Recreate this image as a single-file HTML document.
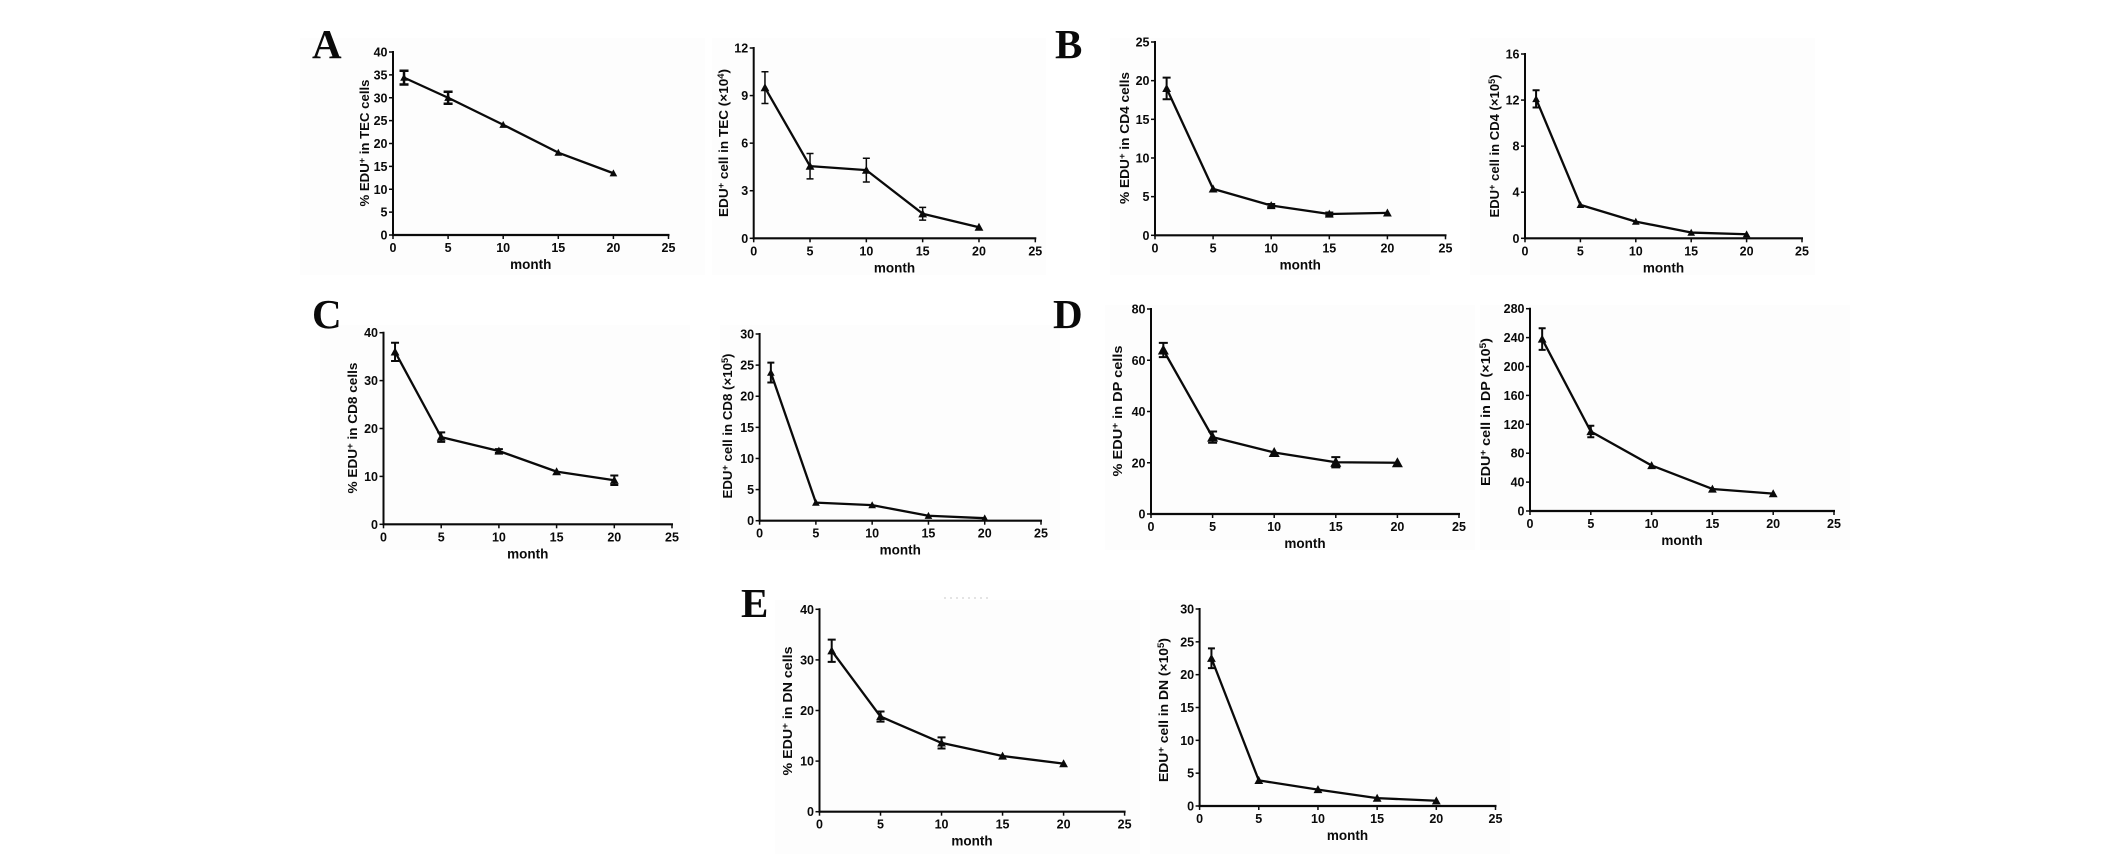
<!DOCTYPE html>
<html>
<head>
<meta charset="utf-8">
<title>EDU+ cells by month</title>
<style>
html,body{margin:0;padding:0;background:#fff;width:2126px;height:854px;overflow:hidden}
svg{display:block}
text{font-family:"Liberation Sans",sans-serif;font-weight:bold;fill:#0a0a0a}
.letter{font-family:"Liberation Serif",serif;font-size:41px}
.tick{font-size:12.5px}
.xtitle{font-size:13.5px}
.ytitle{font-size:13px}
</style>
</head>
<body>
<svg id="figure" width="2126" height="854" viewBox="0 0 2126 854" xmlns="http://www.w3.org/2000/svg">
  <rect x="0" y="0" width="2126" height="854" fill="#ffffff"/>
  <g id="letters">
    <text class="letter" x="312" y="58">A</text>
    <text class="letter" x="1055" y="58">B</text>
    <text class="letter" x="312" y="328">C</text>
    <text class="letter" x="1053" y="328">D</text>
    <text class="letter" x="741" y="617">E</text>
  </g>
  <line x1="944" y1="598" x2="991" y2="598" stroke="#c8c8c8" stroke-width="1" stroke-dasharray="2 4"/>
</svg>
<script>
// Shared axis data
const months = [1, 5, 10, 15, 20];
const xTicks = [0, 5, 10, 15, 20, 25];

// Panel A, left
const a1Ticks = [0, 5, 10, 15, 20, 25, 30, 35, 40];
const a1Values = [34.4, 30, 24.1, 18, 13.5];
const a1Errors = [1.5, 1.3, 0.3, 0.3, 0.2];
// Panel A, right
const a2Ticks = [0, 3, 6, 9, 12];
const a2Values = [9.5, 4.55, 4.3, 1.55, 0.7];
const a2Errors = [1.0, 0.8, 0.75, 0.4, 0.05];
// Panel B, left
const b1Ticks = [0, 5, 10, 15, 20, 25];
const b1Values = [19, 6, 3.85, 2.75, 2.9];
const b1Errors = [1.4, 0.1, 0.2, 0.2, 0.1];
// Panel B, right
const b2Ticks = [0, 4, 8, 12, 16];
const b2Values = [12.1, 2.9, 1.45, 0.5, 0.35];
const b2Errors = [0.75, 0.1, 0.1, 0.1, 0.05];
// Panel C, left
const c1Ticks = [0, 10, 20, 30, 40];
const c1Values = [36, 18.2, 15.3, 11, 9.2];
const c1Errors = [1.9, 1, 0.4, 0.3, 1];
// Panel C, right
const c2Ticks = [0, 5, 10, 15, 20, 25, 30];
const c2Values = [23.8, 2.9, 2.5, 0.8, 0.4];
const c2Errors = [1.6, 0.1, 0.1, 0.1, 0.1];
// Panel D, left
const d1Ticks = [0, 20, 40, 60, 80];
const d1Values = [64, 30, 24, 20.2, 20];
const d1Errors = [2.8, 2.2, 0.5, 2, 0.1];
// Panel D, right
const d2Ticks = [0, 40, 80, 120, 160, 200, 240, 280];
const d2Values = [238, 110, 63, 30.5, 24];
const d2Errors = [15, 8, 2, 1, 0.5];
// Panel E, left
const e1Ticks = [0, 10, 20, 30, 40];
const e1Values = [31.8, 18.8, 13.6, 11, 9.5];
const e1Errors = [2.2, 1, 1.1, 0.2, 0.1];
// Panel E, right
const e2Ticks = [0, 5, 10, 15, 20, 25, 30];
const e2Values = [22.5, 3.9, 2.5, 1.2, 0.8];
const e2Errors = [1.5, 0.1, 0.1, 0.1, 0.1];

const charts = [
  {id:'a1', pre:'% EDU', post:' in TEC cells', ticks:a1Ticks, values:a1Values, errors:a1Errors},
  {id:'a2', pre:'EDU', post:' cell in TEC (\u00d710', exp:'4', end:')', ticks:a2Ticks, values:a2Values, errors:a2Errors},
  {id:'b1', pre:'% EDU', post:' in CD4 cells', ticks:b1Ticks, values:b1Values, errors:b1Errors},
  {id:'b2', pre:'EDU', post:' cell in CD4 (\u00d710', exp:'5', end:')', ticks:b2Ticks, values:b2Values, errors:b2Errors},
  {id:'c1', pre:'% EDU', post:' in CD8 cells', ticks:c1Ticks, values:c1Values, errors:c1Errors},
  {id:'c2', pre:'EDU', post:' cell in CD8 (\u00d710', exp:'5', end:')', ticks:c2Ticks, values:c2Values, errors:c2Errors},
  {id:'d1', pre:'% EDU', post:' in DP cells', ticks:d1Ticks, values:d1Values, errors:d1Errors},
  {id:'d2', pre:'EDU', post:' cell in DP (\u00d710', exp:'5', end:')', ticks:d2Ticks, values:d2Values, errors:d2Errors},
  {id:'e1', pre:'% EDU', post:' in DN cells', ticks:e1Ticks, values:e1Values, errors:e1Errors},
  {id:'e2', pre:'EDU', post:' cell in DN (\u00d710', exp:'5', end:')', ticks:e2Ticks, values:e2Values, errors:e2Errors}
];

// Plot geometry per panel: left, right, bottom, top of axes, title position and length, backdrop, mark sizes
const layout = {
  a1:{l:393,r:668.5,b:235,t:52,tx:369,ty:143,tl:127,bg:[300,38,405,237],m:7,cap:9,ew:2.5,lw:2},
  a2:{l:753.7,r:1035.3,b:238.3,t:48,tx:728,ty:143,tl:148,bg:[712,38,334,237],m:8,cap:7,ew:1.5,lw:2},
  b1:{l:1155,r:1445.5,b:235.3,t:42,tx:1129,ty:138,tl:132,bg:[1110,38,320,237],m:8,cap:8,ew:2,lw:2},
  b2:{l:1525,r:1802,b:238.3,t:54,tx:1499,ty:146,tl:143,bg:[1470,38,345,237],m:7,cap:7,ew:2,lw:2},
  c1:{l:383.5,r:672,b:524.3,t:332.7,tx:357,ty:428,tl:131,bg:[320,325,370,225],m:8,cap:8,ew:2,lw:2},
  c2:{l:759.6,r:1041,b:520.7,t:334,tx:732,ty:426,tl:145,bg:[720,325,340,225],m:7,cap:7,ew:2,lw:2},
  d1:{l:1151,r:1459,b:514,t:309,tx:1122,ty:411,tl:131,bg:[1105,305,370,245],m:10,cap:9,ew:2,lw:2},
  d2:{l:1530,r:1834,b:511,t:308.7,tx:1490,ty:412,tl:148,bg:[1480,305,370,245],m:8,cap:7,ew:2,lw:2},
  e1:{l:819.5,r:1124.6,b:811.7,t:609.3,tx:792,ty:711,tl:129,bg:[775,600,365,254],m:8,cap:8,ew:2,lw:2},
  e2:{l:1199.6,r:1495.5,b:806,t:609,tx:1168,ty:710,tl:144,bg:[1150,600,360,254],m:8,cap:7,ew:2,lw:2}
};

const NS = 'http://www.w3.org/2000/svg';
const root = document.getElementById('figure');

function make(parent, tag, props, txt) {
  const el = document.createElementNS(NS, tag);
  for (const k in props) el.setAttribute(k, props[k]);
  if (txt !== undefined) el.textContent = txt;
  parent.appendChild(el);
  return el;
}

charts.forEach(function (c) {
  const L = layout[c.id];
  const yMax = c.ticks[c.ticks.length - 1];
  const xMax = xTicks[xTicks.length - 1];
  const xs = function (v) { return L.l + (L.r - L.l) * v / xMax; };
  const ys = function (v) { return L.b - (L.b - L.t) * v / yMax; };

  const g = make(root, 'g', {});
  
  

  const bg = make(g, 'rect', {x:L.bg[0], y:L.bg[1], width:L.bg[2], height:L.bg[3], fill:'#fdfdfd'});
  
  

  const yAxis = make(g, 'line', {x1:L.l, x2:L.l, y1:L.t - 1, y2:L.b + 1, stroke:'#0a0a0a', 'stroke-width':2});
  
  

  const xAxis = make(g, 'line', {x1:L.l - 1, x2:L.r + 1, y1:L.b, y2:L.b, stroke:'#0a0a0a', 'stroke-width':2.2});
  
  

  c.ticks.forEach(function (t) {
    const mark = make(g, 'line', {x1:L.l - 4, x2:L.l, y1:ys(t), y2:ys(t), stroke:'#0a0a0a', 'stroke-width':1.5});
    
    
    const lab = make(g, 'text', {class:'tick', x:L.l - 5.5, y:ys(t) + 4.5, 'text-anchor':'end'}, String(t));
    
    
  });

  xTicks.forEach(function (t) {
    const mark = make(g, 'line', {x1:xs(t), x2:xs(t), y1:L.b, y2:L.b + 4, stroke:'#0a0a0a', 'stroke-width':1.5});
    
    
    const lab = make(g, 'text', {class:'tick', x:xs(t), y:L.b + 17, 'text-anchor':'middle'}, String(t));
    
    
  });

  const xTitle = make(g, 'text', {class:'xtitle', x:(L.l + L.r) / 2, y:L.b + 34, 'text-anchor':'middle'}, 'month');
  
  

  const yTitle = make(g, 'text', {class:'ytitle', 'text-anchor':'middle', textLength:L.tl, lengthAdjust:'spacingAndGlyphs', transform:'translate(' + L.tx + ' ' + L.ty + ') rotate(-90)'});
  
  
  make(yTitle, 'tspan', {}, c.pre);
  make(yTitle, 'tspan', {'font-size':9, dy:-4}, '+');
  make(yTitle, 'tspan', {dy:4}, c.post);
  if (c.exp) {
    make(yTitle, 'tspan', {'font-size':9, dy:-4}, c.exp);
    make(yTitle, 'tspan', {dy:4}, c.end);
  }

  c.values.forEach(function (v, i) {
    const e = c.errors[i];
    if (ys(v - e) - ys(v + e) < 3) return;
    const x = xs(months[i]);
    const eb = make(g, 'path', {
      d:'M' + x + ' ' + ys(v + e) + 'V' + ys(v - e) +
        'M' + (x - L.cap / 2) + ' ' + ys(v + e) + 'h' + L.cap +
        'M' + (x - L.cap / 2) + ' ' + ys(v - e) + 'h' + L.cap,
      stroke:'#0a0a0a', 'stroke-width':L.ew, fill:'none'
    });
    
    
  });

  const pts = c.values.map(function (v, i) { return xs(months[i]) + ',' + ys(v); }).join(' ');
  const line = make(g, 'polyline', {points:pts, fill:'none', stroke:'#0a0a0a', 'stroke-width':L.lw + 0.3, 'stroke-linejoin':'round'});
  
  

  c.values.forEach(function (v, i) {
    const x = xs(months[i]), y = ys(v), m = L.m;
    const tri = make(g, 'polygon', {
      points:x + ',' + (y - m * 0.55) + ' ' + (x + m * 0.55) + ',' + (y + m * 0.45) + ' ' + (x - m * 0.55) + ',' + (y + m * 0.45),
      fill:'#0a0a0a'
    });
    
    
  });
});

// Panel letters sit above the faint plot backdrops
root.appendChild(document.getElementById('letters'));
</script>
</body>
</html>
